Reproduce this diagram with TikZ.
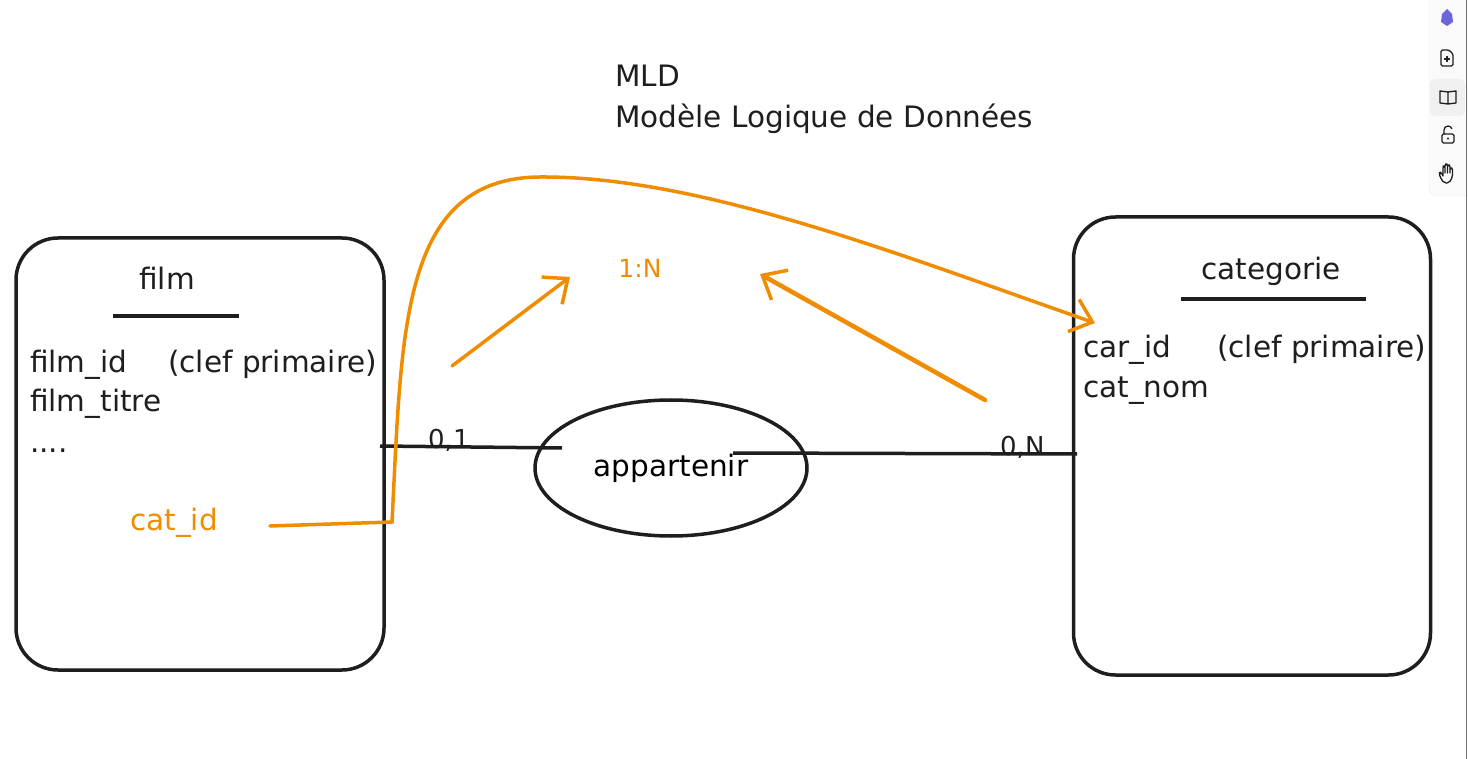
\documentclass[tikz,border=0pt]{standalone}
\usepackage{fontspec}
\setmainfont{DejaVu Sans}
\usepackage{xcolor}
\usepackage{tikz}
\usetikzlibrary{arrows.meta, positioning, calc, shapes.geometric}
\definecolor{ink}{HTML}{1E1E1E}
\definecolor{orng}{HTML}{F08C00}
\definecolor{gem}{HTML}{6965DB}
\newcommand{\bodyfont}{\fontsize{29.5}{34}\selectfont}
\newcommand{\titlefont}{\fontsize{29.5}{34}\selectfont}
\newcommand{\cardfont}{\fontsize{26}{30}\selectfont}

\begin{document}
\begin{tikzpicture}[
		x=1pt, y=-1pt,
		font=\bodyfont,
		box/.style={draw=ink, line width=3.5pt, rounded corners=42pt, inner sep=0pt},
		txt/.style={anchor=base west, inner sep=0pt, text=ink},
		hdr/.style={anchor=base, inner sep=0pt, text=ink},
		link/.style={draw=ink, line width=3.5pt},
		fk/.style={draw=orng, line width=3.5pt, line cap=round,
			-{Straight Barb[length=20pt, width=34pt, line width=3.5pt]}},
		icon/.style={draw=ink, line width=1.3pt, line cap=round, line join=round}
		]
		\useasboundingbox (0,0) rectangle (1468,759);
		\fill[white] (0,0) rectangle (1468,759);
		
		% Title
		\node[txt, font=\titlefont] (mld) at (615,87) {MLD};
		\node[txt, font=\titlefont] (mldfull) at (615,128) {Modèle Logique de Données};
		
		% Entities
		\node[box, minimum width=368pt, minimum height=432pt] (film) at (200,454) {};
		\node[box, minimum width=357pt, minimum height=458pt] (categorie) at (1252,446) {};
		
		% Entity film
		\node[hdr] (filmname) at (167,290) {film};
		\draw[ink, line width=3.5pt] (113,316) -- (239,316);
		\node[txt] (filmid) at (30,373) {film\_id};
		\node[txt] (filmpk) at (168,373) {(clef primaire)};
		\node[txt] (filmtitre) at (30,412) {film\_titre};
		\node[txt] (filmdots) at (30,452) {....};
		\node[txt, text=orng] (catid) at (130,530) {cat\_id};
		
		% Entity categorie
		\node[hdr] (catname) at (1271,280) {categorie};
		\draw[ink, line width=3.5pt] (1181,299) -- (1366,299);
		\node[txt] (carid) at (1083,358) {car\_id};
		\node[txt] (catpk) at (1217,358) {(clef primaire)};
		\node[txt] (catnom) at (1083,398) {cat\_nom};
		
		% Association
		\node[draw=ink, line width=3.5pt, ellipse, minimum width=272pt,
		minimum height=136pt, inner sep=0pt] (rel) at (671,468) {appartenir};
		
		% Cardinality links
		\coordinate (filmR) at (380,446);
		\coordinate (relL) at (562,448);
		\coordinate (relR) at (733,453);
		\coordinate (catL) at (1077,454);
		\draw[link] (filmR) -- (relL);
		\draw[link] (relR) -- (catL);
		\node[txt, font=\cardfont] (card1) at (428,448) {0,1};
		\node[txt, font=\cardfont] (card2) at (1000,455) {0,N};
		
		% Foreign key
		\coordinate (fkA) at (270,526);
		\coordinate (fkB) at (392,522);
		\coordinate (fkC) at (540,177);
		\coordinate (catIn) at (1095,323);
		\draw[fk] (fkA) -- (fkB)
		.. controls (402,330) and (400,178) .. (fkC)
		.. controls (700,176) and (900,255) .. (catIn);
		
		% 1:N
		\node[hdr, text=orng, font=\fontsize{25}{30}\selectfont] (onen) at (640,278) {1:N};
		\coordinate (arrA) at (452,366);
		\coordinate (arrB) at (570,277);
		\coordinate (arrC) at (985,400);
		\coordinate (arrD) at (760,274);
		\draw[fk] (arrA) -- (arrB);
		\draw[fk, line width=4.5pt] (arrC) -- (arrD);
		
		% Toolbar
		\filldraw[fill=black!2, draw=black!8, rounded corners=8pt] (1429,-12) rectangle (1475,196);
		\draw[black!55, line width=1pt] (1466,0) -- (1466,759);
		\fill[gem] (1447,9) -- (1452,14) -- (1453,22) -- (1447,26) -- (1441,22) -- (1442,14) -- cycle;
		\draw[icon, rounded corners=1.5pt] (1441,50) -- (1449,50) -- (1453,54) -- (1453,66) -- (1441,66) -- cycle;
		\draw[icon] (1444.5,59) -- (1449.5,59) (1447,56.5) -- (1447,61.5);
		\fill[black!6, rounded corners=6pt] (1430,79) rectangle (1465,116);
		\draw[icon] (1440,91) -- (1440,103) -- (1448,104) -- (1456,103) -- (1456,91) -- (1448,92) -- cycle (1448,92) -- (1448,104);
		\draw[icon, rounded corners=1.5pt] (1442,134) rectangle (1454,143);
		\draw[icon] (1444,134) -- (1444,130) arc[start angle=180, end angle=340, radius=4];
		\fill[ink] (1448,138.5) circle (1.2pt);
		\draw[icon, rounded corners=2pt] (1443,176) -- (1443,170) -- (1443,166) -- (1445,166) -- (1445,173)
		(1445,173) -- (1445,164) -- (1447.5,164) -- (1447.5,173)
		(1447.5,173) -- (1447.5,165) -- (1450,165) -- (1450,173)
		(1450,173) -- (1450,168) -- (1452.5,168) -- (1452.5,177) -- (1449,183) -- (1444,183) -- (1440,177) -- (1439,173) -- (1441,172) -- (1443,176);
		
	\end{tikzpicture}
\end{document}
